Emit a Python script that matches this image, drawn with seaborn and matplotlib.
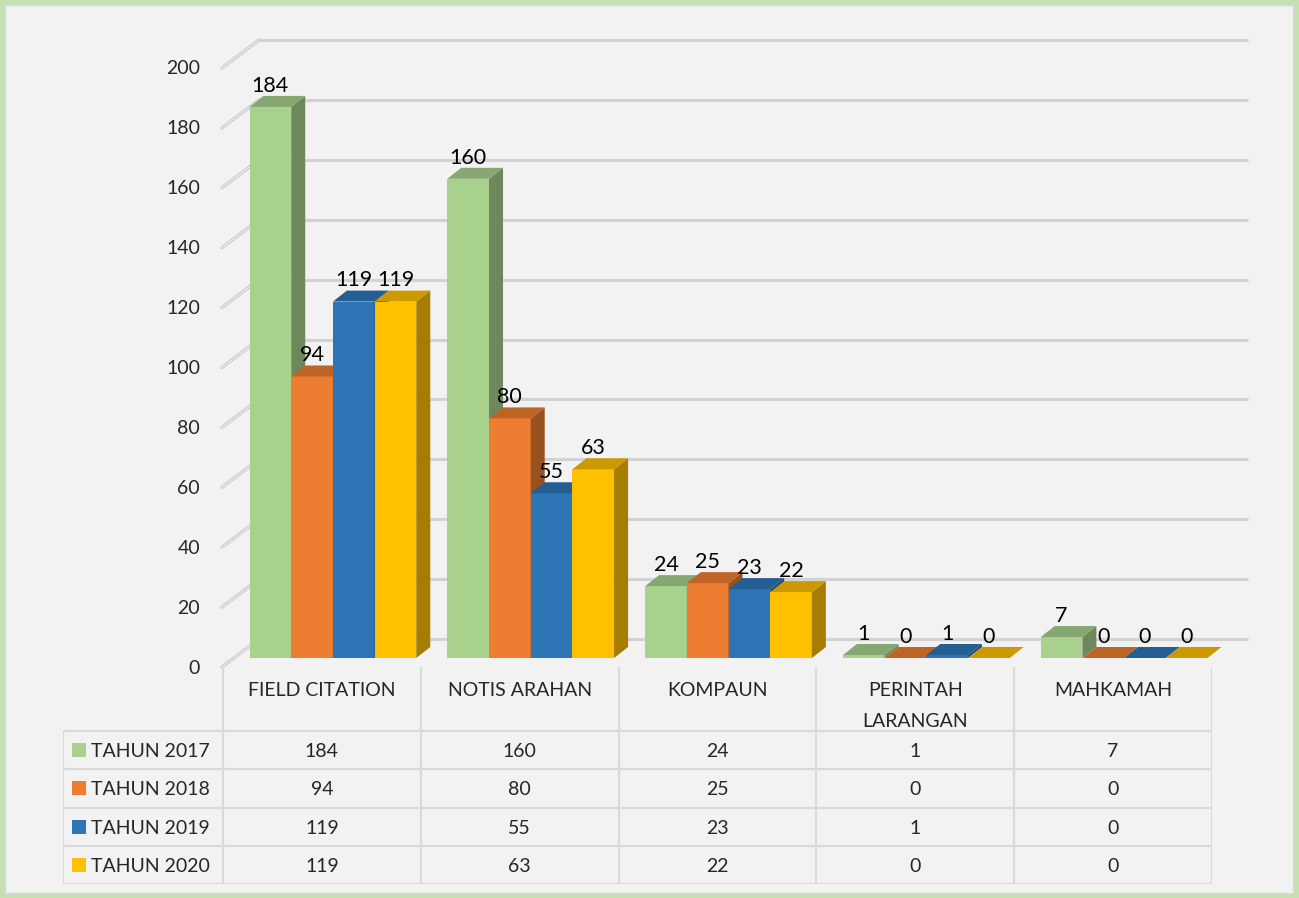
import numpy as np
import pandas as pd
import matplotlib
matplotlib.use("Agg")
import matplotlib.pyplot as plt
import seaborn as sns
from matplotlib.patches import Polygon, Rectangle

# Data
kategori = ['FIELD CITATION', 'NOTIS ARAHAN', 'KOMPAUN', 'PERINTAH\nLARANGAN', 'MAHKAMAH']
tahun = ['TAHUN 2017', 'TAHUN 2018', 'TAHUN 2019', 'TAHUN 2020']
nilai_2017 = [184, 160, 24, 1, 7]
nilai_2018 = [94, 80, 25, 0, 0]
nilai_2019 = [119, 55, 23, 1, 0]
nilai_2020 = [119, 63, 22, 0, 0]
warna = ['#a9d18e', '#ed7d31', '#2e75b6', '#ffc000']
yticks = list(range(0, 201, 20))

semua = [nilai_2017, nilai_2018, nilai_2019, nilai_2020]
df = pd.DataFrame({
    'kategori': kategori * len(tahun),
    'tahun': np.repeat(tahun, len(kategori)),
    'nilai': sum(semua, []),
})

sns.set_theme(style='white')
plt.rcParams['font.family'] = ['Lato', 'DejaVu Sans']

W, H = 1299, 898
fig = plt.figure(figsize=(W / 100, H / 100), dpi=100, facecolor='#c5e0b4')
fig.add_artist(Rectangle((5 / W, 5 / H), 1288 / W, 888 / H, transform=fig.transFigure,
                         fc='#f2f2f2', ec='#d9d9d9', lw=1, zorder=-1))


def fig_box(l, t, r, b):
    return [l / W, 1 - b / H, (r - l) / W, (b - t) / H]


# Chart
ax = fig.add_axes(fig_box(234, 59, 1223, 658))
sns.barplot(data=df, x='kategori', y='nilai', hue='tahun', palette=warna,
            width=0.843, saturation=1, errorbar=None, legend=False, ax=ax,
            edgecolor='none')
ax.set_xlim(-0.5, 4.5)
ax.set_ylim(0, 200)
ax.set_axis_off()


def px(dx, dy):
    p0 = ax.transData.transform((0, 0))
    return ax.transData.inverted().transform((p0[0] + dx, p0[1] + dy))


# pseudo 3D faces
ddx, ddy = px(14, 11)
bars = sorted(ax.patches, key=lambda p: p.get_x())
for i, p in enumerate(bars):
    x0, w, h = p.get_x(), p.get_width(), p.get_height()
    base = np.array(p.get_facecolor()[:3])
    z = 3 + i * 0.1
    p.set_zorder(z)
    sisi = Polygon([(x0 + w, 0), (x0 + w + ddx, ddy), (x0 + w + ddx, h + ddy), (x0 + w, h)],
                   closed=True, fc=base * 0.65, ec='none', zorder=z + 0.01, clip_on=False)
    atas = Polygon([(x0, h), (x0 + w, h), (x0 + w + ddx, h + ddy), (x0 + ddx, h + ddy)],
                   closed=True, fc=base * 0.8, ec='none', zorder=z + 0.02, clip_on=False)
    ax.add_patch(sisi)
    ax.add_patch(atas)

for c in ax.containers:
    ax.bar_label(c, padding=8, fontsize=15.5, color='black', zorder=20)

# back wall gridlines + diagonal stubs
gdx, gdy = px(25, 19)
fdx, fdy = px(-12, -9)
ax.hlines([v + gdy for v in yticks], -0.5 + gdx, 4.5 + gdx, colors='#d2d2d2', lw=2.2,
          zorder=1, clip_on=False)
for v in yticks:
    ax.plot([-0.5 + fdx, -0.5 + gdx], [v + fdy, v + gdy], color='#d0d0d0', lw=2.5, zorder=1,
            clip_on=False)
    ax.plot([-0.5 + fdx, -0.5 + gdx], [v + fdy, v + gdy], color='white', lw=0.8,
            ls=(0, (1, 1)), zorder=1.1, clip_on=False)
    ax.annotate(f'{v}', xy=(0, v), xycoords=ax.get_yaxis_transform(), xytext=(-34, -10),
                textcoords='offset pixels', ha='right', va='center', fontsize=14,
                annotation_clip=False)

# Data table
tab = fig.add_axes(fig_box(63, 667, 1212, 884))
col_w = 989 / 5
xl = -0.5 - 160 / col_w
tab.set_xlim(xl, 4.5)
tab.set_ylim(217, 0)
tab.set_axis_off()

hdr = 64
rh = (217 - hdr) / 4
garis = dict(color='#d9d9d9', lw=1.5, solid_capstyle='butt')
for k in range(5):
    y = hdr + k * rh
    tab.plot([xl, 4.5], [y, y], **garis)
tab.plot([xl, xl], [hdr, 217], **garis)
for j in range(6):
    tab.plot([j - 0.5, j - 0.5], [0, 217], **garis)

for j, kat in enumerate(kategori):
    tab.text(j, 15, kat, ha='center', va='top', fontsize=14, linespacing=2.0)

for k, (th, vals, cl) in enumerate(zip(tahun, semua, warna)):
    yc = hdr + (k + 0.5) * rh
    tab.add_patch(Rectangle((xl + 9 / col_w, yc - 7), 14 / col_w, 14, fc=cl, ec='none'))
    tab.text(xl + 28 / col_w, yc + 7, th, ha='left', va='baseline', fontsize=14)
    for j, v in enumerate(vals):
        tab.text(j, yc + 7, f'{v}', ha='center', va='baseline', fontsize=14)

fig.savefig('out.png', dpi=100, facecolor=fig.get_facecolor())
